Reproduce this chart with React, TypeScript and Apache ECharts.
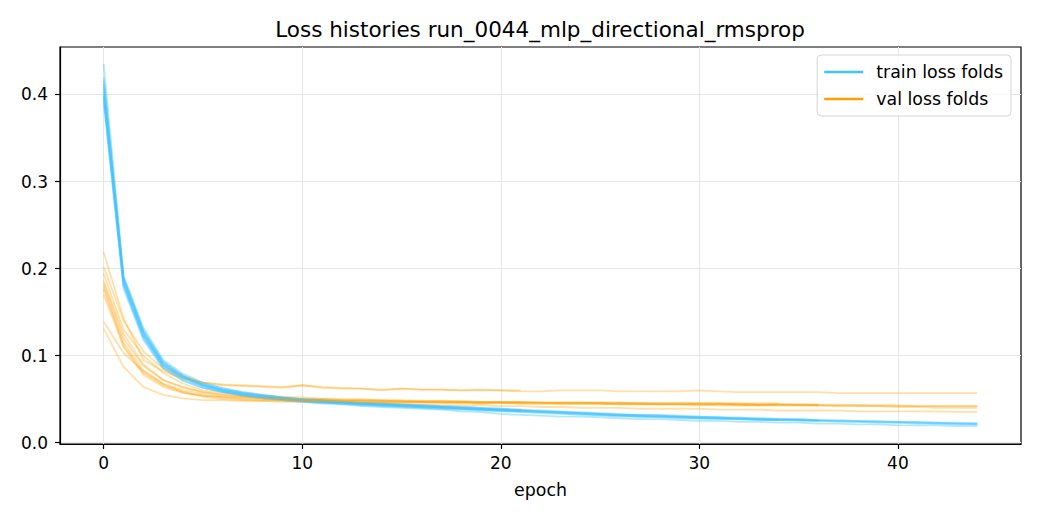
import React, { useEffect, useRef } from "react";
import * as echarts from "echarts";

const TITLE = "Loss histories run_0044_mlp_directional_rmsprop";
const X_TICKS = [0, 10, 20, 30, 40];
const Y_TICKS = [0, 0.1, 0.2, 0.3, 0.4];
const TRAIN_NAME = "train loss folds";
const VAL_NAME = "val loss folds";

// train loss per fold (index = epoch)
const train1 = [0.412, 0.188, 0.127, 0.091, 0.076, 0.067, 0.061, 0.057, 0.054, 0.051, 0.049, 0.048, 0.046, 0.045, 0.044, 0.043, 0.042, 0.041, 0.040, 0.039, 0.038, 0.037, 0.036, 0.035, 0.034, 0.033, 0.032, 0.031, 0.031, 0.030, 0.029, 0.029, 0.028, 0.027, 0.027, 0.026, 0.026, 0.025, 0.025, 0.024, 0.024, 0.023, 0.023, 0.022, 0.022];
const train2 = [0.435, 0.192, 0.132, 0.095, 0.079, 0.069, 0.063, 0.058, 0.055, 0.052, 0.050, 0.049, 0.047, 0.046, 0.045, 0.044, 0.043, 0.042, 0.041, 0.040, 0.039, 0.038, 0.037, 0.036, 0.035, 0.034, 0.033, 0.032, 0.032, 0.031, 0.030, 0.029, 0.029, 0.028, 0.027, 0.027, 0.026, 0.026, 0.025, 0.025, 0.024, 0.024, 0.023, 0.023, 0.0225];
const train3 = [0.395, 0.180, 0.120, 0.086, 0.072, 0.063, 0.058, 0.054, 0.051, 0.049, 0.047, 0.045, 0.044, 0.042, 0.041, 0.040, 0.039, 0.038, 0.036, 0.035, 0.033, 0.032, 0.031, 0.030, 0.030, 0.029, 0.028, 0.027, 0.027, 0.026, 0.025, 0.025, 0.024, 0.024, 0.023, 0.023, 0.022, 0.022, 0.021, 0.021, 0.020, 0.020, 0.020, 0.019, 0.019];
const train4 = [0.403, 0.184, 0.124, 0.089, 0.075, 0.066, 0.060, 0.056, 0.053, 0.050, 0.048, 0.047, 0.046, 0.044, 0.043, 0.042, 0.041, 0.040, 0.039, 0.038, 0.037, 0.036, 0.035, 0.034, 0.033, 0.032, 0.031, 0.030, 0.030, 0.029, 0.028, 0.028, 0.027, 0.026, 0.026, 0.025, 0.025, 0.024, 0.024, 0.023, 0.023, 0.022, 0.022, 0.021, 0.021];
const train5 = [0.420, 0.190, 0.128, 0.092, 0.077, 0.067, 0.061, 0.057, 0.054, 0.052, 0.050, 0.048, 0.047, 0.045, 0.044, 0.043, 0.042, 0.041, 0.040, 0.039, 0.038, 0.037, 0.036, 0.035, 0.034, 0.033, 0.032, 0.031, 0.030, 0.030, 0.029, 0.028, 0.028, 0.027, 0.026, 0.026, 0.025, 0.025, 0.024, 0.024, 0.023, 0.023, 0.022, 0.022, 0.021];
const train6 = [0.398, 0.182, 0.122, 0.088, 0.074, 0.065, 0.059, 0.055, 0.052, 0.050, 0.048, 0.046, 0.045, 0.044, 0.043, 0.042, 0.041, 0.040, 0.039, 0.038, 0.037, 0.036, 0.035, 0.034, 0.033, 0.032, 0.031, 0.030, 0.030, 0.029, 0.028, 0.028, 0.027, 0.027, 0.026, 0.026, 0.025];
const train7 = [0.409, 0.186, 0.126, 0.090, 0.076, 0.066, 0.060, 0.056, 0.053, 0.051, 0.049, 0.047, 0.046, 0.045, 0.044, 0.043, 0.042, 0.041, 0.040, 0.039, 0.038, 0.037, 0.036, 0.035, 0.034, 0.033, 0.032, 0.032, 0.031, 0.030, 0.030, 0.029, 0.028, 0.028, 0.027, 0.027, 0.026];
const train8 = [0.390, 0.177, 0.118, 0.085, 0.071, 0.063, 0.058, 0.054, 0.051, 0.049, 0.047, 0.046, 0.045, 0.043, 0.042, 0.041, 0.040, 0.039, 0.038, 0.037, 0.036, 0.035, 0.034, 0.033, 0.032, 0.031, 0.030, 0.030, 0.029, 0.028, 0.028, 0.027, 0.027, 0.026, 0.026];
const train9 = [0.416, 0.189, 0.129, 0.093, 0.077, 0.068, 0.062, 0.058, 0.055, 0.052, 0.050, 0.049, 0.047, 0.046, 0.045, 0.044, 0.043, 0.042, 0.041, 0.040, 0.039, 0.038];
const train10 = [0.400, 0.183, 0.123, 0.088, 0.074, 0.065, 0.059, 0.055, 0.052, 0.050, 0.048, 0.047, 0.045, 0.044, 0.043, 0.042, 0.041, 0.040, 0.039, 0.038, 0.037, 0.036];

// validation loss per fold (index = epoch)
const val1 = [0.219, 0.143, 0.095, 0.082, 0.074, 0.069, 0.066, 0.065, 0.064, 0.063, 0.066, 0.063, 0.062, 0.062, 0.061, 0.062, 0.061, 0.061, 0.060, 0.060, 0.060, 0.059, 0.059, 0.060, 0.060, 0.060, 0.059, 0.059, 0.059, 0.059, 0.060, 0.059, 0.058, 0.058, 0.058, 0.058, 0.058, 0.057, 0.057, 0.057, 0.057, 0.057, 0.057, 0.057, 0.057];
const val2 = [0.194, 0.130, 0.100, 0.080, 0.068, 0.060, 0.057, 0.055, 0.054, 0.053, 0.052, 0.051, 0.050, 0.050, 0.049, 0.049, 0.048, 0.048, 0.048, 0.047, 0.047, 0.047, 0.046, 0.046, 0.046, 0.046, 0.046, 0.045, 0.045, 0.045, 0.045, 0.045, 0.044, 0.044, 0.044, 0.044, 0.043, 0.043, 0.043, 0.043, 0.043, 0.042, 0.042, 0.042, 0.042];
const val3 = [0.186, 0.125, 0.090, 0.072, 0.064, 0.058, 0.055, 0.053, 0.052, 0.051, 0.050, 0.050, 0.049, 0.049, 0.048, 0.048, 0.047, 0.047, 0.047, 0.046, 0.046, 0.046, 0.046, 0.045, 0.045, 0.045, 0.045, 0.045, 0.044, 0.044, 0.043, 0.044, 0.044, 0.043, 0.043, 0.043, 0.043, 0.042, 0.042, 0.042, 0.041, 0.041, 0.040, 0.040, 0.040];
const val4 = [0.139, 0.103, 0.082, 0.067, 0.058, 0.053, 0.050, 0.049, 0.048, 0.047, 0.047, 0.046, 0.046, 0.045, 0.045, 0.044, 0.044, 0.043, 0.043, 0.043, 0.042, 0.042, 0.041, 0.041, 0.040, 0.040, 0.040, 0.039, 0.039, 0.039, 0.039, 0.038, 0.038, 0.038, 0.037, 0.037, 0.037, 0.037, 0.036, 0.036, 0.036, 0.036, 0.036, 0.0355, 0.0355];
const val5 = [0.131, 0.087, 0.064, 0.055, 0.051, 0.049, 0.049, 0.048, 0.048, 0.048, 0.048, 0.047, 0.047, 0.046, 0.046, 0.046, 0.046, 0.046, 0.046, 0.045, 0.046, 0.045, 0.045, 0.045, 0.045, 0.045, 0.044, 0.044, 0.044, 0.044, 0.044, 0.043, 0.043, 0.043, 0.044, 0.043, 0.043, 0.043, 0.043, 0.042, 0.042, 0.042, 0.042, 0.042, 0.042];
const val6 = [0.183, 0.120, 0.088, 0.072, 0.063, 0.058, 0.055, 0.053, 0.052, 0.051, 0.050, 0.050, 0.049, 0.049, 0.049, 0.048, 0.048, 0.048, 0.047, 0.047, 0.047, 0.047, 0.046, 0.046, 0.046, 0.046, 0.046, 0.045, 0.045, 0.045, 0.045, 0.045, 0.045, 0.044, 0.044, 0.044, 0.044];
const val7 = [0.179, 0.115, 0.083, 0.068, 0.060, 0.056, 0.053, 0.052, 0.051, 0.050, 0.049, 0.049, 0.048, 0.048, 0.047, 0.047, 0.047, 0.046, 0.046, 0.046, 0.046, 0.045, 0.045, 0.045, 0.045, 0.045, 0.044, 0.044, 0.044, 0.044, 0.044, 0.044, 0.043, 0.043, 0.043, 0.043, 0.043];
const val8 = [0.170, 0.110, 0.078, 0.064, 0.057, 0.054, 0.052, 0.051, 0.050, 0.050, 0.049, 0.049, 0.048, 0.048, 0.048, 0.047, 0.047, 0.047, 0.047, 0.046, 0.046, 0.046, 0.046, 0.046, 0.046, 0.045, 0.045, 0.045, 0.045, 0.045, 0.045, 0.045, 0.045, 0.045, 0.045];
const val9 = [0.202, 0.140, 0.105, 0.085, 0.075, 0.069, 0.067, 0.066, 0.065, 0.064, 0.066, 0.064, 0.063, 0.062, 0.060, 0.062, 0.061, 0.061, 0.060, 0.061, 0.060, 0.060];
const val10 = [0.176, 0.112, 0.080, 0.066, 0.058, 0.054, 0.052, 0.050, 0.049, 0.049, 0.048, 0.048, 0.048, 0.047, 0.047, 0.047, 0.047, 0.046, 0.046, 0.046, 0.046, 0.046];

const trainFolds = [train1, train2, train3, train4, train5, train6, train7, train8, train9, train10];
const valFolds = [val1, val2, val3, val4, val5, val6, val7, val8, val9, val10];

const TRAIN_COLOR = "#40c4ff";
const VAL_COLOR = "#ffa000";
const FONT = "DejaVu Sans";

export default function App() {
  const ref = useRef<HTMLDivElement>(null);

  useEffect(() => {
    if (!ref.current) return;
    const chart = echarts.init(ref.current, undefined, { renderer: "svg" });
    const series: any[] = [];
    trainFolds.forEach((fold, i) => {
      series.push({
        type: "line",
        name: TRAIN_NAME,
        data: fold.map((v, e) => [e, v]),
        showSymbol: false,
        symbol: "none",
        silent: true,
        lineStyle: { color: TRAIN_COLOR, width: 1.8, opacity: 0.4 },
        itemStyle: { color: TRAIN_COLOR },
        z: 2,
      });
      series.push({
        type: "line",
        name: VAL_NAME,
        data: valFolds[i].map((v, e) => [e, v]),
        showSymbol: false,
        symbol: "none",
        silent: true,
        lineStyle: { color: VAL_COLOR, width: 1.8, opacity: 0.33 },
        itemStyle: { color: VAL_COLOR },
        z: 2,
      });
    });

    chart.setOption({
      animation: false,
      backgroundColor: "#ffffff",
      title: {
        text: TITLE,
        left: 540,
        top: 18,
        textAlign: "center",
        padding: 0,
        textStyle: { fontFamily: FONT, fontSize: 21.5, fontWeight: "normal", color: "#000" },
      },
      grid: {
        left: 60,
        right: 19,
        top: 47,
        bottom: 76,
        show: true,
        borderColor: "#000",
        borderWidth: 1.2,
        backgroundColor: "transparent",
        containLabel: false,
      },
      legend: {
        orient: "vertical",
        right: 29,
        top: 55,
        data: [
          { name: TRAIN_NAME, itemStyle: { color: TRAIN_COLOR, opacity: 1 } },
          { name: VAL_NAME, itemStyle: { color: VAL_COLOR, opacity: 1 } },
        ],
        icon: "rect",
        itemWidth: 39,
        itemHeight: 2.5,
        itemGap: 9,
        padding: [8, 8, 8, 7],
        backgroundColor: "rgba(255,255,255,0.8)",
        borderColor: "#d5d5d5",
        borderWidth: 1,
        borderRadius: 4,
        selectedMode: false,
        textStyle: { fontFamily: FONT, fontSize: 17.4, color: "#000", lineHeight: 18, padding: [0, 0, 0, 8] },
      },
      xAxis: {
        type: "value",
        min: -2.2,
        max: 46.2,
        name: "epoch",
        nameLocation: "middle",
        nameGap: 37,
        nameTextStyle: { fontFamily: FONT, fontSize: 17.4, color: "#000" },
        axisLine: { show: true, onZero: false, lineStyle: { color: "#000", width: 1.2 } },
        axisTick: { show: true, length: 5, lineStyle: { color: "#000", width: 1.2 }, customValues: X_TICKS },
        axisLabel: {
          fontFamily: FONT,
          fontSize: 17,
          color: "#000",
          margin: 10,
          customValues: X_TICKS,
          formatter: (v: number) => String(v),
        },
        splitLine: { show: true, lineStyle: { color: "#e6e6e6", width: 1 } },
      },
      yAxis: {
        type: "value",
        min: -0.0015,
        max: 0.4545,
        axisLine: { show: true, onZero: false, lineStyle: { color: "#000", width: 1.2 } },
        axisTick: { show: true, length: 5, lineStyle: { color: "#000", width: 1.2 }, customValues: Y_TICKS },
        axisLabel: {
          fontFamily: FONT,
          fontSize: 17,
          color: "#000",
          margin: 12,
          customValues: Y_TICKS,
          formatter: (v: number) => v.toFixed(1),
        },
        splitLine: { show: true, lineStyle: { color: "#e6e6e6", width: 1 } },
      },
      series,
    });

    return () => chart.dispose();
  }, []);

  return (
    <div
      ref={ref}
      style={{ position: "absolute", left: 0, top: 0, width: 1040, height: 520 }}
    />
  );
}
